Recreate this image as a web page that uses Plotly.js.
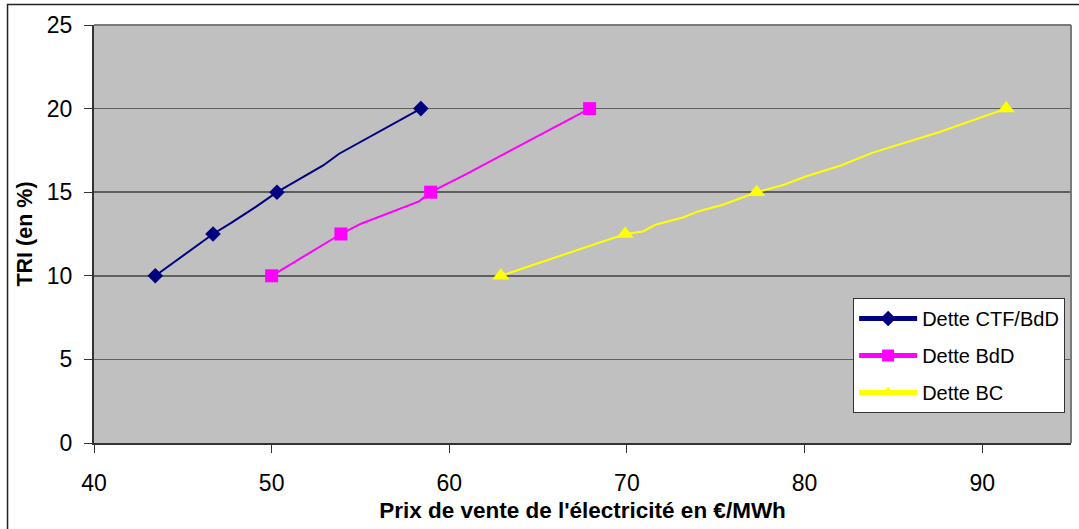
<!DOCTYPE html>
<html>
<head>
<meta charset="utf-8">
<script src="https://cdn.plot.ly/plotly-3.0.1.min.js"></script>
<style>
  html, body { margin: 0; padding: 0; background: #ffffff; }
  #chart { width: 1079px; height: 529px; }
</style>
</head>
<body>
<div id="chart"></div>
<script>
// Series names
const seriesNames = ["Dette CTF/BdD", "Dette BdD", "Dette BC"];

// Dette CTF/BdD (price €/MWh, TRI %); marker flag: 1 = marked point
const ctfX = [43.45, 46.7, 47.7, 49.15, 50.3, 52.9, 53.8, 58.4];
const ctfY = [10, 12.5, 13.15, 14.15, 15, 16.6, 17.3, 20];
const ctfM = [1, 1, 0, 0, 1, 0, 0, 1];

// Dette BdD
const bddX = [50.0, 53.9, 55.0, 58.3, 58.95, 60.9, 67.9];
const bddY = [10, 12.5, 13.1, 14.45, 15, 16.05, 20];
const bddM = [1, 1, 0, 0, 1, 0, 1];

// Dette BC
const bcX = [62.9, 69.9, 70.9, 71.6, 73.2, 74.0, 75.4, 77.3, 78.85, 80.1, 82.05, 83.8, 87.6, 91.35];
const bcY = [10, 12.5, 12.65, 13.05, 13.5, 13.85, 14.25, 15, 15.45, 15.95, 16.6, 17.35, 18.6, 20];
const bcM = [1, 1, 0, 0, 0, 0, 0, 1, 0, 0, 0, 0, 0, 1];

// Axis ticks
const xTicks = [40, 50, 60, 70, 80, 90];
const yTicks = [0, 5, 10, 15, 20, 25];

const FONT = "'Liberation Sans', Arial, sans-serif";

function sizes(flags, s) { return flags.map(f => f ? s : 0); }

const traces = [
  {
    x: ctfX, y: ctfY, name: seriesNames[0], legendgroup: "a",
    type: "scatter", mode: "lines+markers",
    line: { color: "#000080", width: 2 },
    marker: { symbol: "diamond", color: "#000080", opacity: 1, size: sizes(ctfM, 12), line: { width: 0 } }
  },
  {
    x: bddX, y: bddY, name: seriesNames[1], legendgroup: "b",
    type: "scatter", mode: "lines+markers",
    line: { color: "#FF00FF", width: 2 },
    marker: { symbol: "square", color: "#FF00FF", opacity: 1, size: sizes(bddM, 13), line: { width: 0 } }
  },
  {
    x: bcX, y: bcY, name: seriesNames[2], legendgroup: "c",
    type: "scatter", mode: "lines+markers",
    line: { color: "#FFFF00", width: 2 },
    marker: { symbol: "triangle-up", color: "#FFFF00", opacity: 1, size: sizes(bcM, 15), line: { width: 0 } }
  }
];

const layout = {
  width: 1079, height: 529,
  margin: { l: 94, r: 8, t: 25, b: 86, pad: 0 },
  paper_bgcolor: "#ffffff",
  plot_bgcolor: "#C0C0C0",
  font: { family: FONT, color: "#000000", size: 22 },
  showlegend: true,
  legend: {
    x: 0.777, y: 0.347, xanchor: "left", yanchor: "top",
    bgcolor: "#ffffff", bordercolor: "#333333", borderwidth: 1,
    font: { family: FONT, size: 20, color: "#000000" },
    traceorder: "grouped", tracegroupgap: 8,
    itemsizing: "constant", itemwidth: 58
  },
  xaxis: {
    range: [40, 95], tickvals: xTicks, ticktext: xTicks.map(String),
    showgrid: false, zeroline: false,
    showline: true, linecolor: "#333333", linewidth: 2,
    ticks: "outside", ticklen: 8, tickwidth: 1, tickcolor: "#333333",
    tickfont: { family: FONT, size: 23, color: "#000000" },
    ticklabelstandoff: 10,
    title: { text: "Prix de vente de l'électricité en €/MWh", font: { family: FONT, size: 22.5, color: "#000000", weight: "bold" }, standoff: 8 },
    fixedrange: true
  },
  yaxis: {
    range: [0, 25], tickvals: yTicks, ticktext: yTicks.map(String),
    showgrid: true, gridcolor: "#5f5f5f", gridwidth: 1.5,
    zeroline: false,
    showline: true, linecolor: "#333333", linewidth: 2,
    ticks: "outside", ticklen: 8, tickwidth: 1, tickcolor: "#333333",
    tickfont: { family: FONT, size: 23, color: "#000000" },
    ticklabelstandoff: 7,
    title: { text: "TRI (en %)", font: { family: FONT, size: 21.5, color: "#000000", weight: "bold" }, standoff: 8 },
    fixedrange: true
  },
  shapes: [
    // plot area top/right border
    { type: "line", xref: "paper", yref: "paper", x0: 0, x1: 1, y0: 1, y1: 1, line: { color: "#7a7a7a", width: 2 }, layer: "above" },
    { type: "line", xref: "paper", yref: "paper", x0: 1, x1: 1, y0: 0, y1: 1, line: { color: "#7a7a7a", width: 2 }, layer: "above" },
    // outer chart frame
    { type: "rect", xref: "paper", yref: "paper", x0: -0.0885, x1: 1.03, y0: -0.3, y1: 1.049, line: { color: "#222222", width: 1.5 }, layer: "above" }
  ]
};

Plotly.newPlot("chart", traces, layout, { displayModeBar: false, staticPlot: true });
</script>
</body>
</html>
